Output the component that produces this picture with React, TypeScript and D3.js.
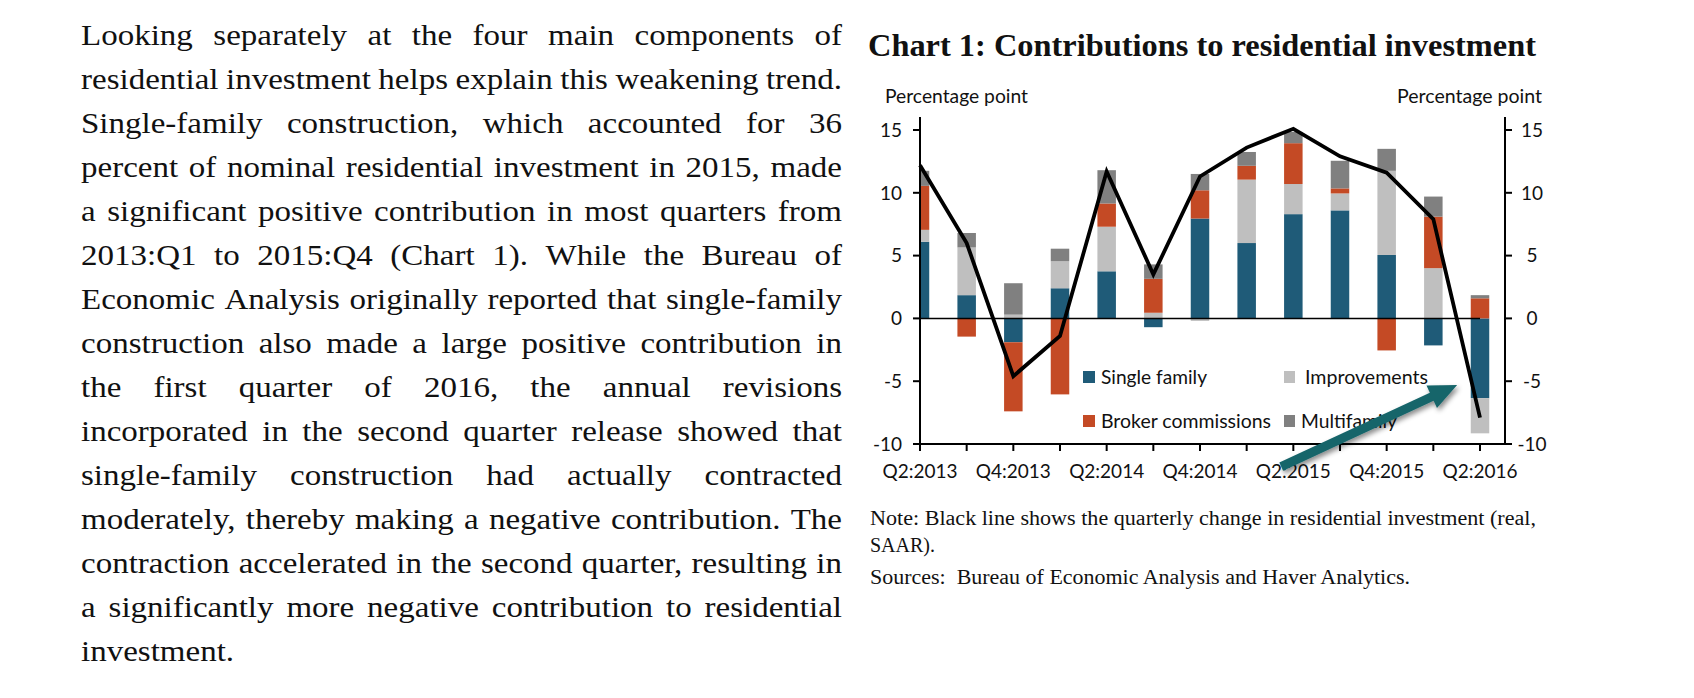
import React, { useEffect, useRef } from 'react';
import * as d3 from 'd3';

// ---------- data ----------
const quarters = ['Q2:2013', 'Q3:2013', 'Q4:2013', 'Q1:2014', 'Q2:2014', 'Q3:2014', 'Q4:2014', 'Q1:2015', 'Q2:2015', 'Q3:2015', 'Q4:2015', 'Q1:2016', 'Q2:2016'];
const singleFamily = [6.1, 1.85, -1.9, 2.4, 3.75, -0.7, 7.95, 6.0, 8.3, 8.6, 5.05, -2.15, -6.35];
const improvements = [0.95, 3.8, 0.3, 2.15, 3.55, 0.45, -0.2, 5.05, 2.4, 1.35, 6.7, 4.0, -2.8];
const brokerCommissions = [3.5, -1.45, -5.5, -6.05, 1.85, 2.7, 2.25, 1.1, 3.25, 0.4, -2.55, 4.1, 1.6];
const multifamily = [1.2, 1.15, 2.5, 1.0, 2.65, 1.15, 1.3, 1.1, 0.9, 2.2, 1.75, 1.6, 0.25];
const totalChange = [12.2, 6.0, -4.6, -1.4, 11.7, 3.5, 11.3, 13.6, 15.1, 12.9, 11.6, 7.9, -7.9];
const yTicks = [-10, -5, 0, 5, 10, 15];
const xTickLabels = ['Q2:2013', 'Q4:2013', 'Q2:2014', 'Q4:2014', 'Q2:2015', 'Q4:2015', 'Q2:2016'];
const seriesKeys = ['singleFamily', 'improvements', 'brokerCommissions', 'multifamily'];
const seriesNames = ['Single family', 'Improvements', 'Broker commissions', 'Multifamily'];
const seriesColors = ['#1f5b78', '#bfbfbf', '#c44a25', '#808080'];
// annotation arrow (in category index / value units)
const arrowTail = { i: 7.74, v: -11.8 };
const arrowTip = { i: 11.51, v: -5.3 };

const paragraphLines = [
  'Looking separately at the four main components of',
  'residential investment helps explain this weakening trend.',
  'Single-family construction, which accounted for 36',
  'percent of nominal residential investment in 2015, made',
  'a significant positive contribution in most quarters from',
  '2013:Q1 to 2015:Q4 (Chart 1). While the Bureau of',
  'Economic Analysis originally reported that single-family',
  'construction also made a large positive contribution in',
  'the first quarter of 2016, the annual revisions',
  'incorporated in the second quarter release showed that',
  'single-family construction had actually contracted',
  'moderately, thereby making a negative contribution. The',
  'contraction accelerated in the second quarter, resulting in',
  'a significantly more negative contribution to residential',
  'investment.',
];

// ---------- layout ----------
const W = 1694;
const H = 698;
const plotLeft = 920;
const plotRight = 1505;
const plotTop = 117;
const sansFont = 'Lato, "Noto Sans", sans-serif';
const serifFont = '"Liberation Serif", "DejaVu Serif", serif';

const x = d3.scaleLinear().domain([0, quarters.length - 1]).range([920, 1480]);
const y = d3.scaleLinear().domain([-10, 15]).range([444, 130]);
const barW = 18.5;

const rows = quarters.map((q, i) => ({
  q,
  i,
  singleFamily: singleFamily[i],
  improvements: improvements[i],
  brokerCommissions: brokerCommissions[i],
  multifamily: multifamily[i],
}));
const stacked = d3.stack<any>().keys(seriesKeys).offset(d3.stackOffsetDiverging)(rows);

const lineGen = d3
  .line<number>()
  .x((_, i) => x(i))
  .y((d) => y(d));

function Paragraph() {
  const ref = useRef<SVGGElement>(null);
  useEffect(() => {
    const fs = 30;
    const hs = 1.1; // horizontal stretch to mimic the wider Garamond face
    const g = d3.select(ref.current);
    g.selectAll('*').remove();
    const left = 81;
    const right = 842;
    const width = right - left;
    paragraphLines.forEach((line, li) => {
      const yy = 45 + li * 44;
      const words = line.split(' ');
      const texts = words.map((w) => g.append('text').attr('y', yy).text(w));
      const widths = texts.map((t) => (t.node() as SVGTextElement).getComputedTextLength());
      const sum = d3.sum(widths);
      const last = li === paragraphLines.length - 1;
      const gaps = words.length - 1;
      let scale = hs;
      let gap = last || gaps === 0 ? fs * 0.25 : (width - sum * scale) / gaps;
      if (!last && gap < fs * 0.2) {
        gap = fs * 0.2;
        scale = (width - gap * gaps) / sum;
      }
      let xx = left;
      texts.forEach((t, j) => {
        t.attr('x', xx).attr('textLength', widths[j] * scale).attr('lengthAdjust', 'spacingAndGlyphs');
        xx += widths[j] * scale + gap;
      });
    });
  }, []);
  return <g ref={ref} fontFamily={serifFont} fontSize={30} fill="#111" />;
}

function Arrow() {
  const x0 = x(arrowTail.i), y0 = y(arrowTail.v);
  const x1 = x(arrowTip.i), y1 = y(arrowTip.v);
  const dx = x1 - x0, dy = y1 - y0;
  const len = Math.hypot(dx, dy);
  const ux = dx / len, uy = dy / len;
  const nx = -uy, ny = ux;
  const hw = 4.5, headLen = 28, headHw = 12.5;
  const bx = x1 - ux * headLen, by = y1 - uy * headLen;
  const pts = [
    [x0 + nx * hw, y0 + ny * hw],
    [bx + nx * hw, by + ny * hw],
    [bx + nx * headHw, by + ny * headHw],
    [x1, y1],
    [bx - nx * headHw, by - ny * headHw],
    [bx - nx * hw, by - ny * hw],
    [x0 - nx * hw, y0 - ny * hw],
  ];
  return (
    <polygon
      points={pts.map((p) => p.join(',')).join(' ')}
      fill="#17656a"
      filter="url(#arrowShadow)"
    />
  );
}

export default function App() {
  return (
    <svg
      width={W}
      height={H}
      style={{ position: 'absolute', left: 0, top: 0, display: 'block', background: '#fff' }}
    >
      <defs>
        <clipPath id="plotClip">
          <rect x={plotLeft} y={plotTop - 20} width={plotRight - plotLeft} height={y(-10) - plotTop + 20} />
        </clipPath>
        <filter id="arrowShadow" x="-20%" y="-40%" width="140%" height="180%">
          <feDropShadow dx={2} dy={3} stdDeviation={2.5} floodColor="#000" floodOpacity={0.45} />
        </filter>
      </defs>
      <rect x={0} y={0} width={W} height={H} fill="#fff" />

      <Paragraph />

      {/* Title */}
      <text
        x={868}
        y={56}
        fontFamily={serifFont}
        fontWeight="bold"
        fontSize={31}
        fill="#111"
        textLength={668}
        lengthAdjust="spacingAndGlyphs"
      >
        Chart 1: Contributions to residential investment
      </text>

      {/* axis titles */}
      <text x={885} y={103} fontFamily={sansFont} fontSize={19} fill="#111" textLength={143} lengthAdjust="spacingAndGlyphs">
        Percentage point
      </text>
      <text x={1397} y={103} fontFamily={sansFont} fontSize={19} fill="#111" textLength={145} lengthAdjust="spacingAndGlyphs">
        Percentage point
      </text>

      {/* bars */}
      <g clipPath="url(#plotClip)">
        {stacked.map((s, si) => (
          <g key={s.key} fill={seriesColors[si]}>
            {s.map((d, i) => {
              const top = y(Math.max(d[0], d[1]));
              const bot = y(Math.min(d[0], d[1]));
              if (bot - top < 0.01) return null;
              return <rect key={i} x={x(i) - barW / 2} y={top} width={barW} height={bot - top} />;
            })}
          </g>
        ))}
      </g>

      {/* zero line */}
      <line x1={x(0)} x2={x(quarters.length - 1)} y1={y(0)} y2={y(0)} stroke="#000" strokeWidth={1.5} />

      {/* axes */}
      <g stroke="#000" strokeWidth={2} fill="none">
        <line x1={plotLeft} x2={plotLeft} y1={plotTop} y2={y(-10)} />
        <line x1={plotRight} x2={plotRight} y1={plotTop} y2={y(-10)} />
        <line x1={plotLeft} x2={plotRight} y1={y(-10)} y2={y(-10)} />
        {yTicks.map((t) => (
          <g key={t}>
            <line x1={plotLeft - 7} x2={plotLeft} y1={y(t)} y2={y(t)} />
            <line x1={plotRight} x2={plotRight + 7} y1={y(t)} y2={y(t)} />
          </g>
        ))}
        {quarters.map((q, i) => (
          <line key={q} x1={x(i)} x2={x(i)} y1={y(-10)} y2={y(-10) + 7} />
        ))}
      </g>
      <g fontFamily={sansFont} fontSize={19} fill="#111">
        {yTicks.map((t) => (
          <text key={'l' + t} x={902} y={y(t)} dy="0.36em" textAnchor="end">
            {t}
          </text>
        ))}
        {yTicks.map((t) => (
          <text key={'r' + t} x={1532} y={y(t)} dy="0.36em" textAnchor="middle">
            {t}
          </text>
        ))}
        {xTickLabels.map((lab) => (
          <text key={lab} x={x(quarters.indexOf(lab))} y={478} textAnchor="middle">
            {lab}
          </text>
        ))}
      </g>

      {/* total line */}
      <path d={lineGen(totalChange) || ''} fill="none" stroke="#000" strokeWidth={3.8} strokeLinejoin="miter" />

      {/* legend */}
      <g fontFamily={sansFont} fontSize={19} fill="#111">
        <rect x={1083} y={371} width={12} height={12} fill={seriesColors[0]} />
        <text x={1101} y={384} textLength={106} lengthAdjust="spacingAndGlyphs">{seriesNames[0]}</text>
        <rect x={1083} y={415} width={12} height={12} fill={seriesColors[2]} />
        <text x={1101} y={427.5} textLength={170} lengthAdjust="spacingAndGlyphs">{seriesNames[2]}</text>
        <rect x={1284} y={371} width={11} height={12} fill={seriesColors[1]} />
        <text x={1305} y={384} textLength={123} lengthAdjust="spacingAndGlyphs">{seriesNames[1]}</text>
        <rect x={1284} y={415} width={11} height={12} fill={seriesColors[3]} />
        <text x={1301} y={427.5} textLength={96} lengthAdjust="spacingAndGlyphs">{seriesNames[3]}</text>
      </g>

      <Arrow />

      {/* notes */}
      <g fontFamily={serifFont} fontSize={20} fill="#111">
        <text x={870} y={525} textLength={666} lengthAdjust="spacingAndGlyphs">
          Note: Black line shows the quarterly change in residential investment (real,
        </text>
        <text x={870} y={552}>SAAR).</text>
        <text x={870} y={584} textLength={540} lengthAdjust="spacingAndGlyphs" xmlSpace="preserve">
          Sources:  Bureau of Economic Analysis and Haver Analytics.
        </text>
      </g>
    </svg>
  );
}
